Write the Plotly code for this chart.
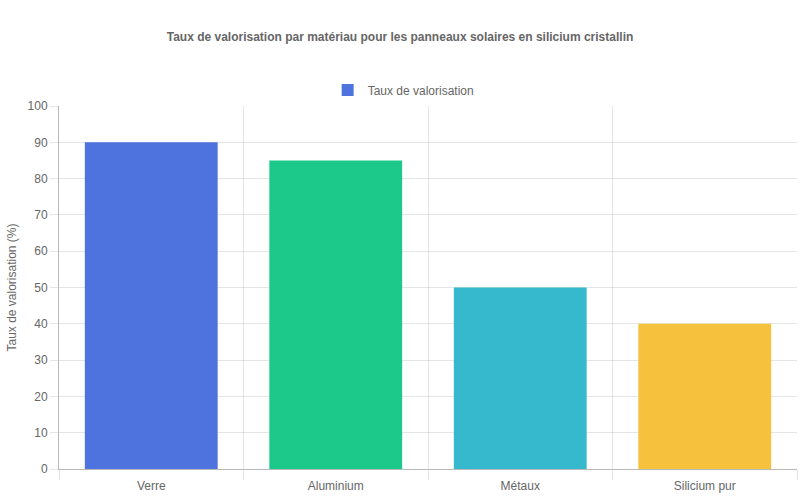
import plotly.graph_objects as go

# Data
materiaux = ['Verre', 'Aluminium', 'Métaux', 'Silicium pur']
taux = [90, 85, 50, 40]
couleurs = ['#4e73df', '#1cc88a', '#36b9cc', '#f6c23e']

fig = go.Figure()
fig.add_trace(go.Bar(
    x=materiaux,
    y=taux,
    name='Taux de valorisation',
    marker=dict(color=couleurs, line=dict(width=0)),
    width=0.72,
    showlegend=True
))

grid = 'rgba(0,0,0,0.1)'
fig.update_layout(
    width=800, height=500,
    margin=dict(l=59, r=3, t=106, b=31),
    paper_bgcolor='white', plot_bgcolor='white',
    font=dict(family='Liberation Sans, Arial, sans-serif', size=12, color='#666'),
    title=dict(
        text='<b>Taux de valorisation par matériau pour les panneaux solaires en silicium cristallin</b>',
        x=0.5, xanchor='center', y=1 - 37 / 500, yanchor='middle',
        font=dict(size=12, color='#666')
    ),
    legend=dict(
        orientation='h', x=0.467, xanchor='center', y=1.044, yanchor='middle',
        font=dict(size=12, color='#666')
    ),
    bargap=0.28,
    xaxis=dict(
        type='category', tickson='boundaries',
        showgrid=True, gridcolor=grid,
        showline=True, linecolor='#b8b8b8', linewidth=1,
        ticks='outside', ticklen=10, tickcolor=grid,
        ticklabelstandoff=6,
        tickfont=dict(size=12, color='#666')
    ),
    yaxis=dict(
        range=[0, 100], dtick=10,
        showgrid=True, gridcolor=grid, zeroline=False,
        showline=True, linecolor='#b8b8b8', linewidth=1,
        ticks='outside', ticklen=8, tickcolor=grid,
        tickfont=dict(size=12, color='#666'),
        title=dict(text='Taux de valorisation (%)', font=dict(size=12, color='#666'), standoff=8)
    )
)

# remove the default page margin so the figure sits at the window corner
fig.write_html("out.html", config={'displayModeBar': False},
               post_script="document.body.style.margin='0';")
